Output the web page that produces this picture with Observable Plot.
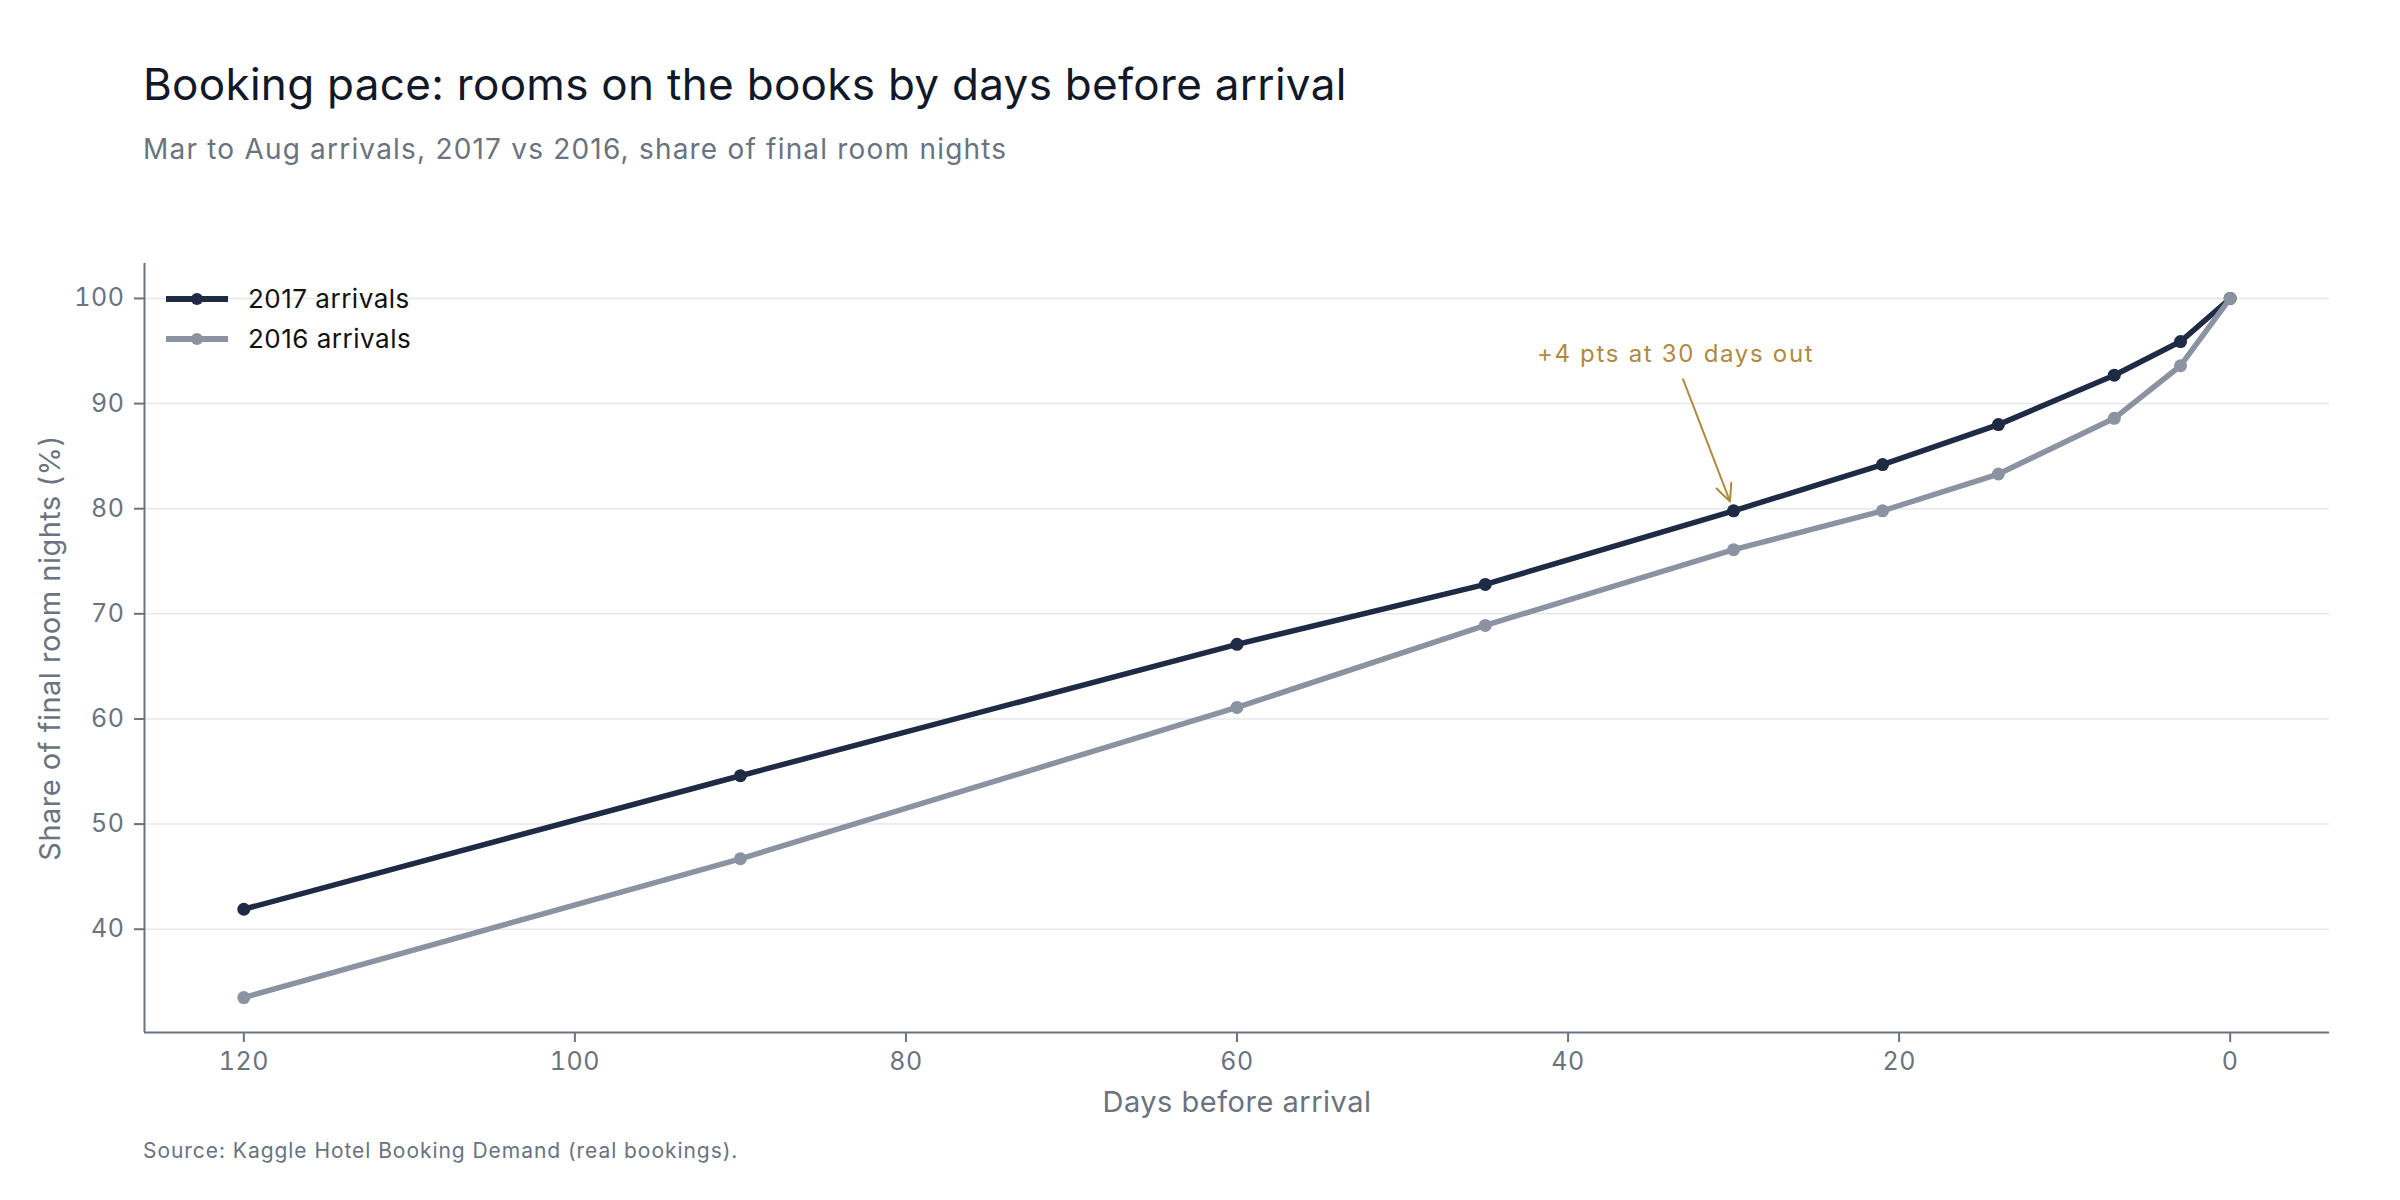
<!DOCTYPE html>
<html>
<head>
<meta charset="utf-8">
<script src="https://cdn.jsdelivr.net/npm/d3@7"></script>
<script src="https://cdn.jsdelivr.net/npm/@observablehq/plot@0.6"></script>
<style>
  html, body { margin: 0; padding: 0; background: #ffffff; }
  body { width: 2400px; height: 1200px; font-family: Inter, "Noto Sans", sans-serif; position: relative; overflow: hidden; }
  #header { position: relative; height: 200px; }
  #title { position: absolute; left: 143px; top: 62px; font-size: 44px; line-height: 1; color: #111827; font-weight: 400; white-space: nowrap; letter-spacing: 0.3px; }
  #subtitle { position: absolute; left: 143px; top: 135px; font-size: 28px; line-height: 1; color: #6b7280; white-space: nowrap; letter-spacing: 1.2px; }
  #chart { position: relative; height: 932px; }
  #chart svg { letter-spacing: 0.5px; }
  #chart g[aria-label="text"] text { letter-spacing: 1.7px; }
  #legend { position: absolute; left: 166px; top: 279px; }
  .row { height: 40px; display: flex; align-items: center; }
  .row span { font-size: 26px; color: #111111; margin-left: 20px; line-height: 1; letter-spacing: 0.5px; }
  #caption { position: absolute; left: 143px; top: 1140px; font-size: 21px; line-height: 1; color: #6b7280; white-space: nowrap; letter-spacing: 0.95px; }
  g[aria-label="x-axis label"], g[aria-label="y-axis label"] { font-size: 29px; }
</style>
</head>
<body>
<div id="header">
  <div id="title">Booking pace: rooms on the books by days before arrival</div>
  <div id="subtitle">Mar to Aug arrivals, 2017 vs 2016, share of final room nights</div>
</div>
<div id="chart"></div>
<div id="legend"></div>
<div id="caption">Source: Kaggle Hotel Booking Demand (real bookings).</div>
<script>
// ---- data ----
const days = [120, 90, 60, 45, 30, 21, 14, 7, 3, 0];
const share2017 = [41.9, 54.6, 67.1, 72.8, 79.8, 84.2, 88.0, 92.7, 95.9, 100];
const share2016 = [33.5, 46.7, 61.1, 68.9, 76.1, 79.8, 83.3, 88.6, 93.6, 100];
const seriesNames = ["2017 arrivals", "2016 arrivals"];
const seriesColors = ["#1f2b44", "#8b93a1"];
const xTicks = [120, 100, 80, 60, 40, 20, 0];
const yTicks = [40, 50, 60, 70, 80, 90, 100];
const annotationText = ["+4 pts at 30 days out"];
const annotationAt = [{day: 33.5, share: 94.7}];          // label anchor (data units)
const arrowFrom = [{day: 33.05, share: 92.3}];            // arrow tail (data units)
const arrowTo = [{day: 30, share: 79.8}];                 // arrow head: the 30-day 2017 point
const annotationColor = "#b08a3e";

// ---- tables ----
const rows2017 = days.map((d, i) => ({day: d, share: share2017[i], series: seriesNames[0]}));
const rows2016 = days.map((d, i) => ({day: d, share: share2016[i], series: seriesNames[1]}));
const all = rows2017.concat(rows2016);

const [xMin, xMax] = d3.extent(all, d => d.day);
const xPad = (xMax - xMin) * 0.05;
const [yMin, yMax] = d3.extent(all, d => d.share);
const yPad = (yMax - yMin) * 0.05;
const xDomain = [xMax + xPad, xMin - xPad];
const yDomain = [yMin - yPad, yMax + yPad];

const annRows = annotationAt.map((a, i) => ({...a, label: annotationText[i]}));
const arrowRows = arrowFrom.map((a, i) => ({x1: a.day, y1: a.share, x2: arrowTo[i].day, y2: arrowTo[i].share}));

const chart = Plot.plot({
  width: 2400,
  height: 932,
  marginTop: 63,
  marginBottom: 100,
  marginLeft: 144,
  marginRight: 71,
  style: {fontFamily: "Inter, 'Noto Sans', sans-serif", fontSize: "25px", color: "#6b7280", background: "#ffffff"},
  x: {domain: xDomain},
  y: {domain: yDomain},
  marks: [
    Plot.gridY(yTicks, {stroke: "#e5e7eb", strokeOpacity: 1, strokeWidth: 1.5}),
    Plot.axisX(xTicks, {tickSize: 10, tickPadding: 10, strokeWidth: 2, label: "Days before arrival", labelAnchor: "center", labelOffset: 79, labelArrow: "none"}),
    Plot.axisY(yTicks, {tickSize: 10, tickPadding: 10, strokeWidth: 2, label: "Share of final room nights (%)", labelAnchor: "center", labelOffset: 105, labelArrow: "none"}),
    Plot.ruleY([yDomain[0]], {stroke: "#6b7280", strokeWidth: 2}),
    Plot.ruleX([xDomain[0]], {stroke: "#6b7280", strokeWidth: 2}),
    Plot.line(rows2017, {x: "day", y: "share", stroke: seriesColors[0], strokeWidth: 5.5}),
    Plot.dot(rows2017, {x: "day", y: "share", fill: seriesColors[0], r: 6.5}),
    Plot.line(rows2016, {x: "day", y: "share", stroke: seriesColors[1], strokeWidth: 5.5}),
    Plot.dot(rows2016, {x: "day", y: "share", fill: seriesColors[1], r: 6.5}),
    Plot.arrow(arrowRows, {x1: "x1", y1: "y1", x2: "x2", y2: "y2", stroke: annotationColor, strokeWidth: 2, headLength: 14, headAngle: 50, insetEnd: 10}),
    Plot.text(annRows, {x: "day", y: "share", text: "label", fill: annotationColor, fontSize: 24, textAnchor: "middle"})
  ]
});
document.getElementById("chart").appendChild(chart);

// ---- legend ----
const legend = d3.select("#legend");
seriesNames.forEach((name, i) => {
  const row = legend.append("div").attr("class", "row");
  const s = row.append("svg").attr("width", 62).attr("height", 16);
  s.append("line").attr("x1", 0).attr("x2", 62).attr("y1", 8).attr("y2", 8)
    .attr("stroke", seriesColors[i]).attr("stroke-width", 6);
  s.append("circle").attr("cx", 31).attr("cy", 8).attr("r", 6).attr("fill", seriesColors[i]);
  row.append("span").text(name);
});
</script>
</body>
</html>
